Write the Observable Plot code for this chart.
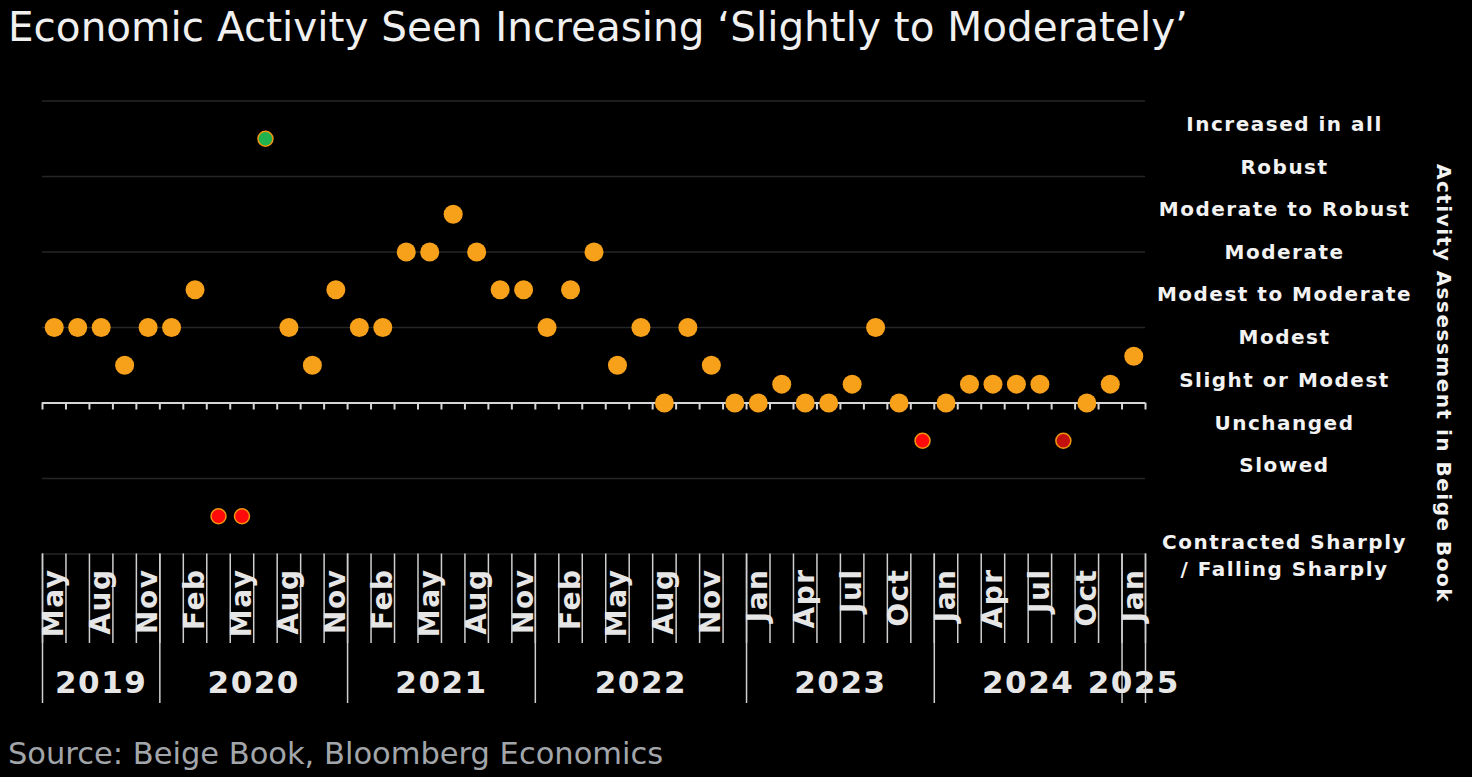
<!DOCTYPE html>
<html>
<head>
<meta charset="utf-8">
<script src="https://cdn.jsdelivr.net/npm/d3@7"></script>
<script src="https://cdn.jsdelivr.net/npm/@observablehq/plot@0.6"></script>
<style>
html, body { margin: 0; padding: 0; background: #000; }
body { width: 1472px; height: 777px; overflow: hidden; position: relative; font-family: "DejaVu Sans", sans-serif; }
#title { position: absolute; left: 8px; top: 3px; color: #f0f0f0; font-size: 40.5px; line-height: 48px; white-space: nowrap; }
#chart { position: absolute; left: 0; top: 60px; }
#source { position: absolute; left: 8px; top: 735px; color: #a2a6aa; font-size: 30.5px; line-height: 38px; white-space: nowrap; }
</style>
</head>
<body>
<div id="title">Economic Activity Seen Increasing ‘Slightly to Moderately’</div>
<div id="chart"></div>
<div id="source">Source: Beige Book, Bloomberg Economics</div>
<script>
// Beige Book releases (year-month as dated on the chart)
const releases = [
  "2019-05","2019-07","2019-08","2019-10","2019-11",
  "2020-01","2020-02","2020-04","2020-05","2020-07","2020-08","2020-10","2020-11",
  "2021-01","2021-02","2021-04","2021-05","2021-07","2021-08","2021-10","2021-11",
  "2022-01","2022-02","2022-04","2022-05","2022-07","2022-08","2022-10","2022-11","2022-12",
  "2023-01","2023-03","2023-04","2023-05","2023-07","2023-08","2023-10","2023-11",
  "2024-01","2024-03","2024-04","2024-05","2024-07","2024-08","2024-10","2024-11",
  "2025-01"
];
// Activity assessment score for each release
const activity = [
  1, 1, 1, 0.5, 1,
  1, 1.5, -1.5, -1.5, 3.5, 1, 0.5, 1.5,
  1, 1, 2, 2, 2.5, 2, 1.5, 1.5,
  1, 1.5, 2, 0.5, 1, 0, 1, 0.5, 0,
  0, 0.25, 0, 0, 0.25, 1, 0, -0.5,
  0, 0.25, 0.25, 0.25, 0.25, -0.5, 0, 0.25,
  0.62
];
// Releases flagged as flat-to-declining (darker red)
const mixedDecline = ["2024-08"];
// Right-hand assessment labels and their positions on the score scale
const levelLabels = ["Increased in all", "Robust", "Moderate to Robust", "Moderate", "Modest to Moderate",
  "Modest", "Slight or Modest", "Unchanged", "Slowed", "Contracted Sharply\n/ Falling Sharply"];
const levelPositions = [3.72, 3.15, 2.59, 2.02, 1.46, 0.89, 0.33, -0.24, -0.80, -2.0];
// Gridline values
const gridValues = [-2, -1, 1, 2, 3, 4];
const axisTitle = "Activity Assessment in Beige Book";

const parseMonth = d3.timeParse("%Y-%m");
const fmtMonth = d3.timeFormat("%b");

const data = releases.map((r, i) => {
  const v = activity[i];
  const tone = v >= 3.5 ? "all" : v < 0 ? (mixedDecline.includes(r) ? "mixed" : "down") : "up";
  return {i, release: r, year: r.slice(0, 4), month: fmtMonth(parseMonth(r)), value: v, tone};
});
const yearGroups = d3.groups(data, d => d.year).map(([year, ds]) => ({
  year, first: ds[0].i, last: ds[ds.length - 1].i, mid: (ds[0].i + ds[ds.length - 1].i) / 2
}));
const edges = d3.range(data.length + 1).map(k => k - 0.5);
const yearEdges = yearGroups.map(g => g.first - 0.5).concat([data.length - 0.5]);
const labeled = data.filter(d => d.i % 2 === 0);
const levels = levelLabels.map((label, k) => ({label, v: levelPositions[k]}));

const orange = "#f7a11a";
const chart = Plot.plot({
  width: 1472,
  height: 655,
  marginLeft: 42,
  marginRight: 327,
  marginTop: 40.5,
  marginBottom: 161.5,
  x: {domain: [-0.5, data.length - 0.5], axis: null},
  y: {domain: [-2, 4], axis: null},
  color: {domain: ["all", "down", "mixed", "up"], range: ["#1fb24e", "#ff0a0a", "#c4100c", orange]},
  style: {background: "#000", color: "#fff", fontFamily: "DejaVu Sans, sans-serif", overflow: "visible"},
  marks: [
    Plot.ruleY(gridValues, {stroke: "#262626", strokeWidth: 1.5}),
    Plot.ruleY([0], {stroke: "#d6d6d6", strokeWidth: 2}),
    Plot.ruleX(edges, {x: d => d, y1: 0, y2: 0, insetBottom: -7, stroke: "#d6d6d6", strokeWidth: 2}),
    Plot.ruleX(edges, {x: d => d, insetTop: 453, insetBottom: -89.5, stroke: "#cfcfcf", strokeWidth: 1.5}),
    Plot.ruleX(yearEdges, {x: d => d, insetTop: 453, insetBottom: -149.5, stroke: "#cfcfcf", strokeWidth: 1.5}),
    Plot.text(labeled, {x: "i", text: "month", frameAnchor: "bottom", rotate: -90, textAnchor: "end",
      lineAnchor: "middle", dy: 14.5, fontSize: 28, fontWeight: "bold", fill: "#e6e6e6"}),
    Plot.text(yearGroups, {x: "mid", text: "year", frameAnchor: "bottom", dy: 129.5, lineAnchor: "middle",
      fontSize: 31, fontWeight: "bold", fill: "#e6e6e6"}),
    Plot.dot(data.filter(d => d.tone === "up"), {x: "i", y: "value", r: 9.5, fill: "tone"}),
    Plot.dot(data.filter(d => d.tone !== "up"), {x: "i", y: "value", r: 7.5, fill: "tone", stroke: "#f0950f", strokeWidth: 1.5}),
    Plot.text(levels, {y: "v", text: "label", frameAnchor: "right", textAnchor: "middle", dx: 139, fontSize: 20,
      fontWeight: "bold", fill: "#f2f2f2", lineHeight: 1.35}),
    Plot.text([axisTitle], {text: d => d, frameAnchor: "right", textAnchor: "middle", dx: 298, dy: 56, rotate: 90,
      fontSize: 20, fontWeight: "bold", fill: "#f2f2f2"})
  ]
});
d3.select(chart).selectAll('g[font-weight="bold"]').attr("letter-spacing", "1.5px");
document.getElementById("chart").appendChild(chart);
</script>
</body>
</html>
